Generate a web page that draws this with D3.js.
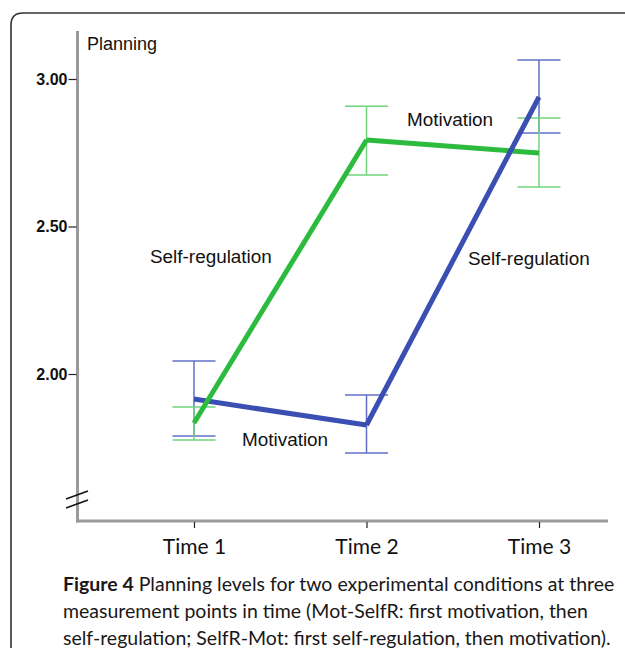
<!DOCTYPE html>
<html><head><meta charset="utf-8">
<script src="https://cdn.jsdelivr.net/npm/d3@7"></script>
<style>body{margin:0;background:#fff}svg{display:block}</style>
</head><body>
<script>
// ---- data ----
const categories = ["Time 1", "Time 2", "Time 3"];
const yTicks = [2.0, 2.5, 3.0];
const motSelfR = [1.915, 1.827, 2.939];          // blue
const motSelfRLow = [1.790, 1.732, 2.817];
const motSelfRHigh = [2.044, 1.929, 3.064];
const selfRMot = [1.834, 2.793, 2.749];          // green
const selfRMotLow = [1.776, 2.675, 2.634];
const selfRMotHigh = [1.888, 2.908, 2.868];
const yTitle = "Planning";
const captionBold = "Figure 4";
const captionLines = [
  " Planning levels for two experimental conditions at three",
  "measurement points in time (Mot-SelfR: first motivation, then",
  "self-regulation; SelfR-Mot: first self-regulation, then motivation)."
];

const W = 625, H = 650;
const svg = d3.select("body").append("svg").attr("width", W).attr("height", H);

const BLUE = "#3b4fb3", BLUE_E = "#6070c8";
const GREEN = "#2dbb3f", GREEN_E = "#70d47d";

// frame
svg.append("path")
  .attr("d", "M11,648 V25 Q11,13 23,13 H626")
  .attr("fill", "none").attr("stroke", "#333").attr("stroke-width", 1.6);

const x = d3.scalePoint().domain(categories).range([194, 539]);
const y = d3.scaleLinear().domain([2, 3]).range([374, 79]);
const axisX = 77.5, axisTop = 31, axisBottom = 521;

// axes lines
svg.append("line").attr("x1", axisX).attr("x2", axisX).attr("y1", axisTop).attr("y2", axisBottom + 1.5)
  .attr("stroke", "#9a9a9a").attr("stroke-width", 3);
svg.append("line").attr("x1", axisX - 1.5).attr("x2", 608).attr("y1", axisBottom).attr("y2", axisBottom)
  .attr("stroke", "#9a9a9a").attr("stroke-width", 3);

// y axis ticks
const gy = svg.append("g").attr("transform", `translate(${axisX - 1},0)`)
  .call(d3.axisLeft(y).tickValues(yTicks).tickFormat(d3.format(".2f")).tickSize(8).tickPadding(1));
gy.select(".domain").remove();
gy.selectAll(".tick line").attr("stroke", "#222").attr("stroke-width", 1.2);
gy.selectAll(".tick text").attr("font-family", "Liberation Sans, Arial, sans-serif")
  .attr("font-size", 16).attr("font-weight", "bold").attr("fill", "#111");

// x axis ticks
const gx = svg.append("g").attr("transform", `translate(0,${axisBottom + 1})`)
  .call(d3.axisBottom(x).tickSize(6).tickPadding(11));
gx.select(".domain").remove();
gx.selectAll(".tick line").attr("stroke", "#222").attr("stroke-width", 1.2);
gx.selectAll(".tick text").attr("font-family", "Lato, sans-serif").attr("font-size", 21).attr("fill", "#111");

// axis break
[[0], [9]].forEach(([dy]) => {
  svg.append("line").attr("x1", 66).attr("y1", 499 + dy).attr("x2", 88).attr("y2", 491 + dy)
    .attr("stroke", "#111").attr("stroke-width", 1.6);
});

// y title
svg.append("text").attr("x", 87).attr("y", 50).text(yTitle)
  .attr("font-family", "Liberation Sans, Arial, sans-serif").attr("font-size", 18).attr("fill", "#111");

// error bars
function errBars(means, lo, hi, color) {
  const g = svg.append("g").attr("stroke", color).attr("stroke-width", 1.5);
  categories.forEach((c, i) => {
    const cx = x(c);
    g.append("line").attr("x1", cx).attr("x2", cx).attr("y1", y(lo[i])).attr("y2", y(hi[i]));
    g.append("line").attr("x1", cx - 21.5).attr("x2", cx + 21.5).attr("y1", y(lo[i])).attr("y2", y(lo[i]));
    g.append("line").attr("x1", cx - 21.5).attr("x2", cx + 21.5).attr("y1", y(hi[i])).attr("y2", y(hi[i]));
  });
}
errBars(motSelfR, motSelfRLow, motSelfRHigh, BLUE_E);
errBars(selfRMot, selfRMotLow, selfRMotHigh, GREEN_E);

// lines, drawn segment by segment
const series = [{v: motSelfR, c: BLUE}, {v: selfRMot, c: GREEN}];
const order = [[0, 1], [1, 0]];
for (let s = 0; s < categories.length - 1; s++) {
  order[s].forEach(k => {
    const d = series[k];
    svg.append("line")
      .attr("x1", x(categories[s])).attr("y1", y(d.v[s]))
      .attr("x2", x(categories[s + 1])).attr("y2", y(d.v[s + 1]))
      .attr("stroke", d.c).attr("stroke-width", 5).attr("stroke-linecap", "butt");
  });
}

// in-plot labels
const labFont = "Liberation Sans, Arial, sans-serif";
[["Self-regulation", 150, 263], ["Self-regulation", 468, 265], ["Motivation", 242, 446], ["Motivation", 407, 126]]
  .forEach(([t, lx, ly]) => svg.append("text").attr("x", lx).attr("y", ly).text(t)
    .attr("font-family", labFont).attr("font-size", 18.9).attr("fill", "#111"));

// caption
const cap = svg.append("g").attr("font-family", "Lato, sans-serif").attr("font-size", 19.5).attr("fill", "#1a1718");
captionLines.forEach((ln, i) => {
  const t = cap.append("text").attr("x", 63).attr("y", 591 + i * 27);
  if (i === 0) t.append("tspan").attr("font-weight", "bold").text(captionBold);
  t.append("tspan").text(ln);
});
</script>
</body></html>
